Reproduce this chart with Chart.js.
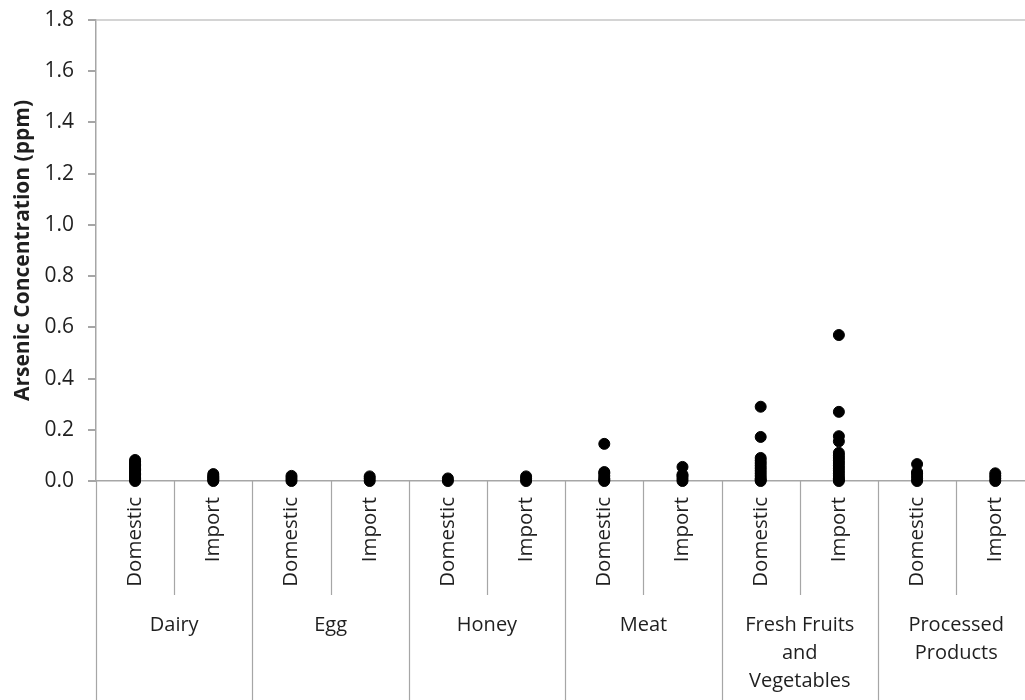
<!DOCTYPE html>
<html>
<head>
<meta charset="utf-8">
<script src="https://cdn.jsdelivr.net/npm/chart.js@4.4.1/dist/chart.umd.min.js"></script>
<style>
  html, body { margin: 0; padding: 0; background: #fff; overflow: hidden; }
</style>
</head>
<body>
<canvas id="arsChart" width="1025" height="700"></canvas>
<script>
// ── Datos ─────────────────────────────────────────────────────
const groups  = ['Dairy', 'Egg', 'Honey', 'Meat', ['Fresh Fruits', 'and', 'Vegetables'], ['Processed', 'Products']];
const origins = ['Domestic', 'Import'];
const yTicks  = [0, 0.2, 0.4, 0.6, 0.8, 1.0, 1.2, 1.4, 1.6, 1.8];

// valores por columna (ppm), en orden: grupo × origen
const dairyDom  = [0, 0.005, 0.01, 0.015, 0.02, 0.025, 0.03, 0.035, 0.04, 0.045, 0.05, 0.055, 0.06, 0.065, 0.07, 0.075, 0.082];
const dairyImp  = [0, 0.005, 0.01, 0.015, 0.02, 0.027];
const eggDom    = [0, 0.01, 0.02];
const eggImp    = [0, 0.01, 0.018];
const honeyDom  = [0, 0.01];
const honeyImp  = [0, 0.01, 0.018];
const meatDom   = [0, 0.005, 0.01, 0.02, 0.03, 0.035, 0.145];
const meatImp   = [0, 0.01, 0.02, 0.025, 0.055];
const freshDom  = [0, 0.005, 0.01, 0.02, 0.03, 0.04, 0.05, 0.06, 0.07, 0.08, 0.09, 0.172, 0.29];
const freshImp  = [0, 0.005, 0.01, 0.02, 0.03, 0.04, 0.05, 0.06, 0.07, 0.08, 0.09, 0.1, 0.11, 0.155, 0.175, 0.27, 0.57];
const procDom   = [0, 0.01, 0.02, 0.03, 0.035, 0.066];
const procImp   = [0, 0.01, 0.02, 0.03];

const columns = [dairyDom, dairyImp, eggDom, eggImp, honeyDom, honeyImp,
                 meatDom, meatImp, freshDom, freshImp, procDom, procImp];

// ── Estilo ────────────────────────────────────────────────────
const AXIS_GRAY = '#a6a6a6';
const TEXT      = '#1f1f1f';
const FONT      = "'Open Sans', sans-serif";

const points = [];
columns.forEach((vals, i) => vals.forEach(v => points.push({ x: i + 0.5, y: v })));

// ── Plugin: etiquetas jerárquicas del eje X ───────────────────
const xLabels = {
  id: 'xLabels',
  afterDraw(chart) {
    const { ctx, scales: { x, y } } = chart;
    const base = y.getPixelForValue(0);
    ctx.save();
    ctx.strokeStyle = AXIS_GRAY;
    ctx.lineWidth = 1.2;
    for (let k = 0; k < columns.length; k++) {
      const px = Math.round(x.getPixelForValue(k)) + 0.5;
      const end = k % 2 === 0 ? 700 : base + 114;
      ctx.beginPath();
      ctx.moveTo(px, base);
      ctx.lineTo(px, end);
      ctx.stroke();
    }
    ctx.fillStyle = TEXT;
    ctx.font = `20.5px ${FONT}`;
    columns.forEach((_, i) => {
      const cx = x.getPixelForValue(i + 0.5);
      ctx.save();
      ctx.translate(cx, base + 16);
      ctx.rotate(-Math.PI / 2);
      ctx.textAlign = 'right';
      ctx.textBaseline = 'middle';
      ctx.fillText(origins[i % 2], 0, 0);
      ctx.restore();
    });
    ctx.font = `20px ${FONT}`;
    ctx.textAlign = 'center';
    ctx.textBaseline = 'middle';
    groups.forEach((g, gi) => {
      const cx = x.getPixelForValue(gi * 2 + 1);
      const lines = Array.isArray(g) ? g : [g];
      lines.forEach((line, li) => ctx.fillText(line, cx, base + 144 + li * 28));
    });
    ctx.restore();
  },
};

new Chart(document.getElementById('arsChart'), {
  type: 'scatter',
  data: {
    datasets: [{
      data: points,
      backgroundColor: '#000',
      borderColor: '#000',
      pointRadius: 5.5,
      pointHoverRadius: 5.5,
      clip: false,
    }],
  },
  options: {
    responsive: false,
    animation: false,
    layout: { autoPadding: false, padding: { top: 20, right: 0, bottom: 219, left: 0 } },
    plugins: { legend: { display: false }, tooltip: { enabled: false } },
    scales: {
      x: {
        type: 'linear',
        min: 0,
        max: 11.88,
        ticks: { display: false },
        grid: { display: false, drawTicks: false },
        border: { display: true, color: AXIS_GRAY, width: 1.5 },
      },
      y: {
        min: 0,
        max: 1.8,
        afterBuildTicks: scale => { scale.ticks = yTicks.map(v => ({ value: v })); },
        afterFit: scale => { scale.width = 96; scale.paddingTop = 0; scale.paddingBottom = 0; },
        ticks: {
          color: TEXT,
          font: { family: FONT, size: 21, lineHeight: 0.6 },
          padding: 14,
          callback: v => Number(v).toFixed(1),
        },
        grid: {
          color: ctx => (ctx.tick && Math.abs(ctx.tick.value - 1.8) < 1e-6 ? '#d4d4d4' : 'transparent'),
          lineWidth: 2,
          tickColor: AXIS_GRAY,
          tickLength: 8,
        },
        border: { display: true, color: AXIS_GRAY, width: 1.5 },
        title: {
          display: true,
          text: 'Arsenic Concentration (ppm)',
          color: TEXT,
          font: { family: FONT, size: 21, weight: 'bold' },
          padding: { top: 10, bottom: 0 },
        },
      },
    },
  },
  plugins: [xLabels],
});
</script>
</body>
</html>
